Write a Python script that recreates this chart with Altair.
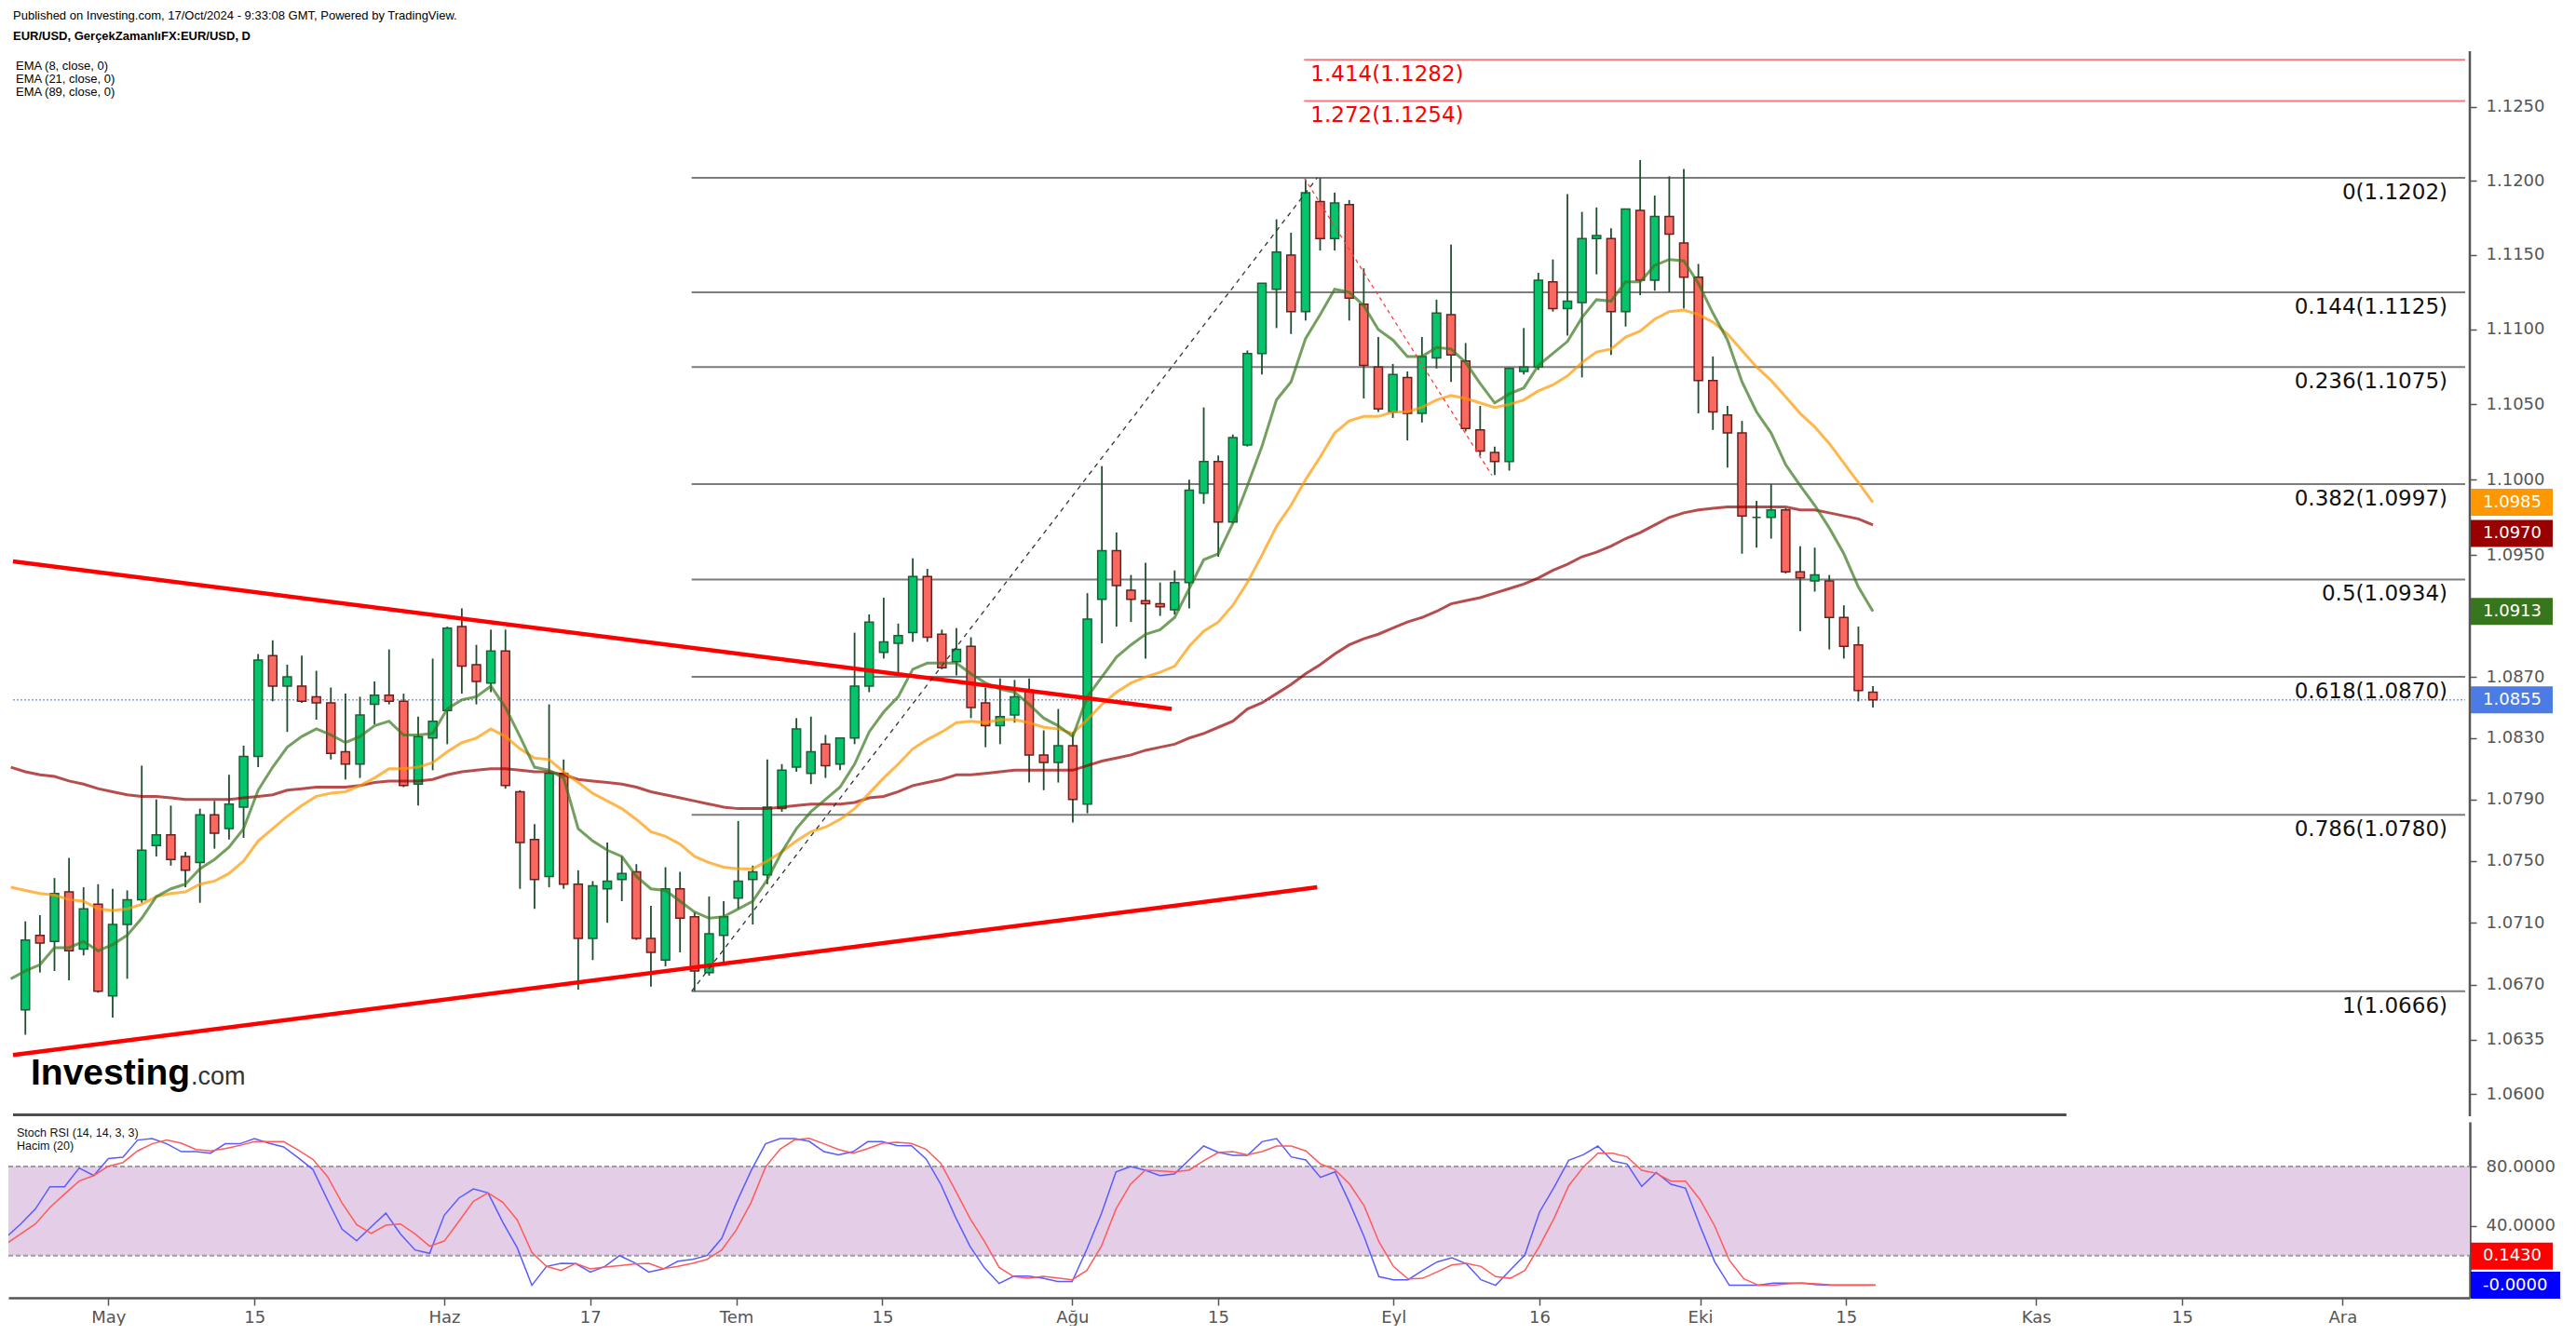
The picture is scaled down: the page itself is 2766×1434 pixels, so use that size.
import altair as alt
import pandas as pd

# ---------------- data ----------------
# daily candles, first visible candle = Tue 23 Apr 2024, last = Thu 17 Oct 2024
open_ = [1.0654,1.0702,1.0698,1.0730,1.0693,1.0722,1.0663,1.0709,1.0725,1.0760,
1.0767,1.0753,1.0749,1.0780,1.0771,1.0785,1.0818,1.0884,1.0864,1.0864,
1.0857,1.0853,1.0821,1.0813,1.0852,1.0858,1.0854,1.0800,1.0830,1.0848,
1.0903,1.0878,1.0866,1.0887,1.0795,1.0764,1.0740,1.0807,1.0735,1.0700,
1.0732,1.0738,1.0743,1.0700,1.0686,1.0732,1.0714,1.0678,1.0702,1.0726,
1.0738,1.0741,1.0784,1.0811,1.0807,1.0826,1.0813,1.0830,1.0864,1.0886,
1.0892,1.0899,1.0936,1.0898,1.0880,1.0890,1.0853,1.0838,1.0845,1.0861,
1.0819,1.0814,1.0825,1.0787,1.0921,1.0953,1.0927,1.0920,1.0918,1.0914,
1.0932,1.0991,1.1012,1.0972,1.1023,1.1084,1.1127,1.1150,1.1112,1.1186,
1.1161,1.1184,1.1117,1.1075,1.1045,1.1068,1.1044,1.1081,1.1110,1.1079,
1.1033,1.1018,1.1012,1.1072,1.1075,1.1132,1.1114,1.1118,1.1161,1.1161,
1.1112,1.1180,1.1133,1.1176,1.1158,1.1135,1.1066,1.1043,1.1031,1.0975,
1.0975,1.0980,1.0939,1.0933,1.0933,1.0909,1.0891,1.0860]
high_ = [1.0711,1.0715,1.0739,1.0752,1.0733,1.0735,1.0732,1.0731,1.0812,1.0790,
1.0786,1.0756,1.0784,1.0789,1.0806,1.0825,1.0885,1.0894,1.0878,1.0884,
1.0874,1.0863,1.0859,1.0857,1.0867,1.0888,1.0859,1.0844,1.0882,1.0903,
1.0915,1.0891,1.0901,1.0901,1.0796,1.0774,1.0852,1.0816,1.0744,1.0737,
1.0762,1.0753,1.0748,1.0721,1.0746,1.0743,1.0717,1.0727,1.0724,1.0776,
1.0747,1.0816,1.0813,1.0843,1.0844,1.0832,1.0830,1.0899,1.0911,1.0922,
1.0905,1.0948,1.0941,1.0901,1.0902,1.0896,1.0863,1.0869,1.0868,1.0869,
1.0835,1.0849,1.0834,1.0925,1.1009,1.0965,1.0937,1.0945,1.0932,1.0940,
1.1000,1.1048,1.1016,1.1030,1.1086,1.1131,1.1174,1.1165,1.1201,1.1202,
1.1192,1.1187,1.1141,1.1095,1.1077,1.1072,1.1095,1.1120,1.1157,1.1091,
1.1049,1.1022,1.1074,1.1101,1.1138,1.1147,1.1191,1.1179,1.1182,1.1168,
1.1181,1.1214,1.1190,1.1203,1.1208,1.1144,1.1082,1.1049,1.1039,1.0986,
1.0997,1.0981,1.0956,1.0955,1.0937,1.0917,1.0903,1.0864]
low_ = [1.0638,1.0678,1.0679,1.0673,1.0689,1.0665,1.0649,1.0674,1.0723,1.0753,
1.0747,1.0733,1.0723,1.0758,1.0764,1.0765,1.0811,1.0854,1.0834,1.0853,
1.0842,1.0816,1.0803,1.0804,1.0839,1.0852,1.0798,1.0786,1.0809,1.0826,
1.0859,1.0852,1.0860,1.0797,1.0732,1.0719,1.0733,1.0732,1.0667,1.0686,
1.0710,1.0724,1.0699,1.0669,1.0682,1.0691,1.0666,1.0676,1.0685,1.0719,
1.0709,1.0735,1.0782,1.0808,1.0800,1.0804,1.0809,1.0826,1.0860,1.0882,
1.0873,1.0893,1.0893,1.0875,1.0871,1.0843,1.0824,1.0826,1.0840,1.0801,
1.0796,1.0801,1.0775,1.0781,1.0892,1.0903,1.0906,1.0882,1.0910,1.0911,
1.0915,1.0984,1.0949,1.0971,1.1022,1.1070,1.1101,1.1097,1.1106,1.1153,
1.1153,1.1106,1.1054,1.1045,1.1041,1.1026,1.1038,1.1074,1.1065,1.1032,
1.1016,1.1003,1.1006,1.1070,1.1073,1.1112,1.1096,1.1068,1.1137,1.1083,
1.1102,1.1123,1.1126,1.1125,1.1114,1.1044,1.1033,1.1008,1.0951,1.0955,
1.0961,1.0938,1.0900,1.0926,1.0888,1.0882,1.0854,1.0850]
close_ = [1.0699,1.0697,1.0729,1.0692,1.0719,1.0666,1.0709,1.0725,1.0757,1.0767,
1.0751,1.0744,1.0780,1.0768,1.0787,1.0818,1.0881,1.0864,1.0870,1.0854,
1.0853,1.0820,1.0813,1.0845,1.0858,1.0854,1.0799,1.0831,1.0841,1.0902,
1.0877,1.0867,1.0887,1.0799,1.0762,1.0738,1.0807,1.0735,1.0700,1.0734,
1.0737,1.0742,1.0700,1.0691,1.0732,1.0713,1.0679,1.0703,1.0714,1.0737,
1.0743,1.0785,1.0809,1.0836,1.0821,1.0812,1.0830,1.0864,1.0906,1.0893,
1.0897,1.0936,1.0896,1.0876,1.0888,1.0850,1.0838,1.0844,1.0857,1.0819,
1.0814,1.0825,1.0790,1.0908,1.0953,1.0930,1.0921,1.0918,1.0916,1.0932,
1.0993,1.1012,1.0972,1.1028,1.1084,1.1131,1.1152,1.1112,1.1192,1.1161,
1.1185,1.1121,1.1076,1.1047,1.1070,1.1044,1.1082,1.1111,1.1083,1.1034,
1.1019,1.1012,1.1074,1.1075,1.1133,1.1114,1.1119,1.1161,1.1163,1.1112,
1.1181,1.1133,1.1176,1.1164,1.1135,1.1066,1.1045,1.1031,1.0976,1.0975,
1.0980,1.0939,1.0935,1.0937,1.0909,1.0890,1.0861,1.0855]

# indicator lines, first value = Mon 22 Apr 2024 (partly off the left edge)
ema8 = [1.0674,
1.0679,1.0683,1.0694,1.0694,1.0698,1.0692,1.0696,1.0702,1.0713,1.0727,
1.0732,1.0735,1.0745,1.0751,1.0759,1.0771,1.0796,1.0811,1.0824,1.0831,
1.0836,1.0832,1.0827,1.0831,1.0838,1.0841,1.0832,1.0832,1.0833,1.0849,
1.0855,1.0857,1.0864,1.0850,1.0831,1.0811,1.0809,1.0804,1.0771,1.0763,
1.0757,1.0753,1.0740,1.0732,1.0731,1.0724,1.0717,1.0713,1.0714,1.0719,
1.0724,1.0738,1.0756,1.0771,1.0782,1.0790,1.0798,1.0813,1.0834,1.0847,
1.0857,1.0875,1.0879,1.0879,1.0879,1.0872,1.0866,1.0862,1.0860,1.0852,
1.0843,1.0838,1.0831,1.0857,1.0870,1.0883,1.0891,1.0898,1.0901,1.0909,
1.0928,1.0947,1.0951,1.0971,1.0996,1.1022,1.1053,1.1065,1.1094,1.1110,
1.1127,1.1125,1.1116,1.1100,1.1093,1.1082,1.1082,1.1088,1.1087,1.1078,
1.1064,1.1051,1.1057,1.1061,1.1076,1.1084,1.1092,1.1108,1.1120,1.1119,
1.1132,1.1132,1.1143,1.1147,1.1146,1.1131,1.1111,1.1093,1.1065,1.1045,
1.1031,1.1010,1.0996,1.0983,1.0968,1.0951,1.0929,1.0913]
ema21 = [1.0733,
1.0731,1.0729,1.0728,1.0725,1.0724,1.0719,1.0718,1.0719,1.0722,1.0727,
1.0729,1.0730,1.0735,1.0737,1.0742,1.0750,1.0763,1.0771,1.0779,1.0786,
1.0792,1.0794,1.0795,1.0799,1.0804,1.0810,1.0810,1.0811,1.0814,1.0821,
1.0827,1.0830,1.0836,1.0831,1.0823,1.0817,1.0816,1.0808,1.0801,1.0794,
1.0789,1.0784,1.0777,1.0769,1.0766,1.0761,1.0753,1.0749,1.0746,1.0745,
1.0745,1.0750,1.0756,1.0763,1.0769,1.0772,1.0777,1.0784,1.0794,1.0804,
1.0813,1.0823,1.0829,1.0834,1.0840,1.0841,1.0840,1.0842,1.0842,1.0840,
1.0837,1.0836,1.0833,1.0842,1.0852,1.0860,1.0866,1.0870,1.0873,1.0877,
1.0890,1.0900,1.0906,1.0917,1.0932,1.0950,1.0969,1.0983,1.1000,1.1015,
1.1031,1.1039,1.1042,1.1042,1.1045,1.1045,1.1048,1.1053,1.1056,1.1054,
1.1051,1.1048,1.1050,1.1053,1.1059,1.1063,1.1069,1.1078,1.1085,1.1087,
1.1095,1.1099,1.1107,1.1112,1.1113,1.1110,1.1105,1.1097,1.1086,1.1075,
1.1066,1.1055,1.1044,1.1035,1.1024,1.1011,1.0998,1.0985]
ema89 = [1.0811,
1.0808,1.0806,1.0805,1.0802,1.0800,1.0797,1.0795,1.0793,1.0792,1.0792,
1.0791,1.0790,1.0790,1.0790,1.0790,1.0791,1.0792,1.0793,1.0796,1.0797,
1.0798,1.0798,1.0798,1.0799,1.0801,1.0802,1.0802,1.0802,1.0803,1.0806,
1.0808,1.0809,1.0810,1.0810,1.0809,1.0808,1.0808,1.0806,1.0803,1.0802,
1.0801,1.0800,1.0798,1.0795,1.0793,1.0791,1.0789,1.0787,1.0785,1.0784,
1.0784,1.0784,1.0785,1.0786,1.0787,1.0787,1.0787,1.0788,1.0791,1.0792,
1.0795,1.0799,1.0801,1.0803,1.0806,1.0806,1.0807,1.0808,1.0809,1.0809,
1.0809,1.0809,1.0809,1.0812,1.0815,1.0817,1.0819,1.0822,1.0824,1.0826,
1.0830,1.0833,1.0837,1.0841,1.0849,1.0853,1.0859,1.0865,1.0872,1.0878,
1.0885,1.0891,1.0895,1.0898,1.0902,1.0906,1.0909,1.0913,1.0918,1.0920,
1.0922,1.0925,1.0928,1.0931,1.0935,1.0940,1.0944,1.0949,1.0952,1.0956,
1.0961,1.0965,1.0970,1.0975,1.0978,1.0980,1.0981,1.0982,1.0982,1.0982,
1.0982,1.0982,1.0980,1.0980,1.0978,1.0976,1.0974,1.0970]
stoch_k = [32.5,
41.3,51.4,66.4,66.4,79.0,73.9,85.4,86.3,97.8,98.8,
95.3,90.0,90.0,89.0,95.3,95.3,98.8,95.7,93.2,85.9,
78.1,57.6,37.8,30.0,39.4,48.6,34.6,23.8,21.5,47.2,
58.7,64.9,62.2,42.6,25.2,0.0,12.7,14.8,14.6,8.9,
12.7,20.0,15.4,8.9,11.0,16.2,17.5,20.0,31.5,55.5,
76.9,95.3,98.8,98.8,96.9,90.0,87.9,90.0,96.7,96.7,
94.1,94.0,85.1,68.1,46.1,26.3,11.6,1.2,6.2,6.2,
4.7,2.6,2.6,24.2,48.2,76.4,80.0,77.5,73.9,75.0,
84.4,93.8,89.6,87.5,87.5,96.7,98.8,86.5,84.4,72.7,
76.4,55.5,32.5,5.8,3.7,3.7,10.0,15.8,18.5,14.4,
3.7,0.0,10.2,20.4,49.3,66.0,84.2,87.9,93.8,83.8,
81.7,66.6,76.0,68.1,65.4,39.9,15.8,0.0,0.0,0.0,
1.5,1.5,1.5,0.4,0.0,0.0,0.0,-0.0]
stoch_d = [27.9,
34.6,41.3,52.4,61.4,70.2,73.9,80.2,82.7,90.5,95.3,
97.8,95.7,91.5,90.5,92.1,94.2,96.7,96.7,96.7,91.1,
84.8,73.3,55.5,40.9,35.0,40.5,41.3,34.6,26.3,29.8,
43.0,56.6,62.2,56.0,44.0,22.1,12.7,10.0,14.8,11.0,
12.3,13.3,14.4,14.8,11.2,12.7,14.8,17.5,23.8,37.3,
55.5,79.6,91.7,98.0,99.0,95.3,91.5,89.0,92.1,95.7,
96.3,95.5,91.5,82.3,63.9,45.1,29.4,12.0,5.8,4.7,
6.0,4.9,3.7,10.0,26.3,51.4,68.1,77.5,77.1,76.4,
77.5,83.8,89.4,90.0,87.9,90.0,93.8,93.8,90.5,81.7,
77.9,68.1,53.4,29.4,12.7,4.3,4.7,9.1,13.7,14.8,
12.7,5.8,4.7,10.0,26.3,45.1,67.0,79.6,89.0,89.0,
86.5,77.5,75.4,70.2,70.2,57.6,39.9,16.9,4.3,0.0,
0.0,1.0,1.5,1.0,0.2,0.143,0.143,0.143]

assert len(open_) == len(high_) == len(low_) == len(close_) == 128
assert len(ema8) == len(ema21) == len(ema89) == len(stoch_k) == len(stoch_d) == 129

# calendar: weekday sessions, index 0 = 23 Apr 2024
bdays = pd.bdate_range("2024-04-22", "2024-12-31")
def day_index(d):
    return int(bdays.get_loc(pd.Timestamp(d))) - 1

tick_dates = ["2024-05-01", "2024-05-15", "2024-06-03", "2024-06-17", "2024-07-01",
              "2024-07-15", "2024-08-01", "2024-08-15", "2024-09-02", "2024-09-16",
              "2024-10-01", "2024-10-15", "2024-11-01", "2024-11-15", "2024-12-02"]
tick_labels = ["May", "15", "Haz", "17", "Tem", "15", "Ağu", "15", "Eyl", "16",
               "Eki", "15", "Kas", "15", "Ara"]
tick_idx = [day_index(d) for d in tick_dates]

price_ticks = [1.0600, 1.0635, 1.0670, 1.0710, 1.0750, 1.0790, 1.0830, 1.0870,
               1.0950, 1.1000, 1.1050, 1.1100, 1.1150, 1.1200, 1.1250]
rsi_ticks = [40, 80]

fib_ratios = ["0", "0.144", "0.236", "0.382", "0.5", "0.618", "0.786", "1"]
fib_prices = [1.1202, 1.1125, 1.1075, 1.0997, 1.0934, 1.0870, 1.0780, 1.0666]
ext_ratios = ["1.414", "1.272"]
ext_prices = [1.1282, 1.1254]
fib_start = 45.8        # swing low session (26 Jun)
ext_start = 87.9

trend_upper = [(-0.85, 1.0946), (78.8, 1.0849)]
trend_lower = [(-0.85, 1.0625), (88.8, 1.0733)]
swing_up = [(45.8, 1.0666), (88.8, 1.1202)]
swing_down = [(87.9, 1.1202), (100.8, 1.1003)]
separator_end = 140.3

header1 = "Published on Investing.com, 17/Oct/2024 - 9:33:08 GMT, Powered by TradingView."
header2 = "EUR/USD, GerçekZamanlıFX:EUR/USD, D"
ema_titles = ["EMA (8, close, 0)", "EMA (21, close, 0)", "EMA (89, close, 0)"]
rsi_titles = ["Stoch RSI (14, 14, 3, 3)", "Hacim (20)"]

# ---------------- layout / style ----------------
W, H1, H2 = 2643, 1199, 189
XMIN, XMAX = -0.848, 167.71
xsc = alt.Scale(domain=[XMIN, XMAX], nice=False, zero=False)
ysc = alt.Scale(type="log", domain=[1.05859, 1.13227], nice=False, zero=False)
rsc = alt.Scale(domain=[-8.4, 110.1], nice=False, zero=False)
AX = "DejaVu Sans"
TX = "Liberation Sans"
GREY = "#555555"

price_axis = alt.Axis(orient="right", values=price_ticks, format=".4f", title=None,
                      grid=False, domain=False, tickColor=GREY, tickSize=7, tickWidth=1.5,
                      labelFont=AX, labelFontSize=18, labelColor=GREY, labelPadding=10,
                      labelOverlap=False)
label_expr = " : ".join(f"datum.value == {i} ? '{t}'" for i, t in zip(tick_idx, tick_labels)) + " : ''"
x_axis = alt.Axis(values=tick_idx, labelExpr=label_expr, title=None, grid=False,
                  domain=True, domainColor=GREY, domainWidth=2.5, tickColor=GREY,
                  tickSize=8, tickWidth=1.5, labelFont=AX, labelFontSize=18,
                  labelColor=GREY, labelPadding=4, labelFlush=False, labelOverlap=False)
r_axis = alt.Axis(orient="right", values=rsi_ticks, format=".4f", title=None, grid=False,
                  domain=True, domainColor=GREY, domainWidth=2.5, tickColor=GREY,
                  tickSize=7, tickWidth=1.5, labelFont=AX, labelFontSize=18,
                  labelColor=GREY, labelPadding=10)

cdf = pd.DataFrame({"i": list(range(128)), "o": open_, "h": high_, "l": low_, "c": close_})
ldf = pd.DataFrame({"i": list(range(-1, 128)), "ema8": ema8, "ema21": ema21,
                    "ema89": ema89, "k": stoch_k, "d": stoch_d})
one = pd.DataFrame({"a": [0]})

def X(f="i"):
    return alt.X(f"{f}:Q", scale=xsc, axis=None)

def Y(f):
    return alt.Y(f"{f}:Q", scale=ysc, axis=price_axis)

def RX(f="i"):
    return alt.X(f"{f}:Q", scale=xsc, axis=x_axis)

def RY(f):
    return alt.Y(f"{f}:Q", scale=rsc, axis=r_axis)

fdf = pd.DataFrame({"p": fib_prices, "r": fib_ratios})
fdf["x0"] = fib_start
fdf["x1"] = XMAX
fdf["lab"] = [f"{r}({p:.4f})" for r, p in zip(fib_ratios, fib_prices)]
edf = pd.DataFrame({"p": ext_prices, "r": ext_ratios})
edf["x0"] = ext_start
edf["x1"] = XMAX
edf["lab"] = [f"{r}({p:.4f})" for r, p in zip(ext_ratios, ext_prices)]

fib_rules = alt.Chart(fdf).mark_rule(color="#7c7c7c", strokeWidth=2, clip=True).encode(
    x=X("x0"), x2="x1:Q", y=Y("p"))
ext_rules = alt.Chart(edf).mark_rule(color="#f77c80", strokeWidth=2, clip=True).encode(
    x=X("x0"), x2="x1:Q", y=Y("p"))
fib_text = alt.Chart(fdf).mark_text(align="right", baseline="top", dx=-19, dy=5,
                                    font=AX, fontSize=23, color="#111").encode(
    x=X("x1"), y=Y("p"), text="lab:N")
ext_text = alt.Chart(edf).mark_text(align="left", baseline="top", dx=7, dy=5,
                                    font=AX, fontSize=23, color="#ff0000").encode(
    x=X("x0"), y=Y("p"), text="lab:N")

last_df = pd.DataFrame({"p": [close_[-1]], "x0": [XMIN], "x1": [XMAX]})
last_line = alt.Chart(last_df).mark_rule(color="#7f9cf5", strokeWidth=1.5,
                                         strokeDash=[2, 2], clip=True).encode(
    x=X("x0"), x2="x1:Q", y=Y("p"))

tl_rows = []
for g, pts in (("up", trend_upper), ("lo", trend_lower)):
    for i, p in pts:
        tl_rows.append({"g": g, "i": i, "p": p})
trend = alt.Chart(pd.DataFrame(tl_rows)).mark_line(color="#ff0000", strokeWidth=4.5,
                                                   clip=True).encode(
    x=X(), y=Y("p"), detail="g:N")
sw_up = alt.Chart(pd.DataFrame(swing_up, columns=["i", "p"])).mark_line(
    color="#333333", strokeWidth=1.3, strokeDash=[5, 5]).encode(x=X(), y=Y("p"))
sw_dn = alt.Chart(pd.DataFrame(swing_down, columns=["i", "p"])).mark_line(
    color="#ff3b3b", strokeWidth=1.3, strokeDash=[4, 4]).encode(x=X(), y=Y("p"))

wicks = alt.Chart(cdf).mark_rule(color="#1f4e2f", strokeWidth=1.8).encode(
    x=X(), y=Y("l"), y2="h:Q")
bodies = alt.Chart(cdf).mark_bar(width=9, strokeWidth=1.5).encode(
    x=X(), y=Y("o"), y2="c:Q",
    fill=alt.condition("datum.c >= datum.o", alt.value("#05c46b"), alt.value("#fa695f")),
    stroke=alt.condition("datum.c >= datum.o", alt.value("#1d5c36"), alt.value("#6b1f1f")))

ema_lines = [
    alt.Chart(ldf).mark_line(color=col, opacity=0.7, strokeWidth=3, clip=True).encode(
        x=X(), y=Y(f))
    for f, col in (("ema89", "#990000"), ("ema21", "#ff9800"), ("ema8", "#38761d"))
]

headers = [
    alt.Chart(one).mark_text(text=header1, align="left", baseline="alphabetic", font=TX,
                             fontSize=13, color="#000").encode(x=alt.value(5), y=alt.value(21)),
    alt.Chart(one).mark_text(text=header2, align="left", baseline="alphabetic", font=TX,
                             fontSize=13, fontWeight="bold", color="#000").encode(
        x=alt.value(5), y=alt.value(43)),
]
for n, t in enumerate(ema_titles):
    headers.append(alt.Chart(one).mark_text(text=t, align="left", baseline="alphabetic",
                                            font=TX, fontSize=13, color="#000").encode(
        x=alt.value(8), y=alt.value(75 + 14 * n)))
logo = [
    alt.Chart(one).mark_text(text="Investing", align="left", baseline="alphabetic", font=TX,
                             fontSize=39, fontWeight="bold", color="#000").encode(
        x=alt.value(24), y=alt.value(1165)),
    alt.Chart(one).mark_text(text=".com", align="left", baseline="alphabetic", font=TX,
                             fontSize=27, color="#333").encode(x=alt.value(196), y=alt.value(1165)),
]

def tag(value, label, color, yenc, y_off=0, width=89):
    d = pd.DataFrame({"v": [value], "lab": [label]})
    box = alt.Chart(d).mark_rule(color=color, strokeWidth=29, strokeCap="butt",
                                 yOffset=y_off).encode(
        x=alt.value(W + 1), x2=alt.value(W + width), y=yenc("v"))
    txt = alt.Chart(d).mark_text(align="left", baseline="middle", font=AX, fontSize=18,
                                 color="white", yOffset=y_off).encode(
        x=alt.value(W + 14), y=yenc("v"), text="lab:N")
    return [box, txt]

price_tags = []
price_tags += tag(ema21[-1], f"{ema21[-1]:.4f}", "#ff9800", Y)
price_tags += tag(ema89[-1], f"{ema89[-1]:.4f}", "#990000", Y, y_off=9)
price_tags += tag(ema8[-1], f"{ema8[-1]:.4f}", "#38761d", Y)
price_tags += tag(close_[-1], f"{close_[-1]:.4f}", "#4b7be5", Y)

axis_rule = alt.Chart(one).mark_rule(color=GREY, strokeWidth=2.5).encode(
    x=alt.value(W), y=alt.value(55), y2=alt.value(H1))
sep_df = pd.DataFrame({"x0": [XMIN], "x1": [separator_end]})
separator = alt.Chart(sep_df).mark_rule(color="#4d4d4d", strokeWidth=3, clip=True).encode(
    x=X("x0"), x2="x1:Q", y=alt.value(H1 - 1.5))

price = alt.layer(
    fib_rules, ext_rules, last_line, wicks, bodies, *ema_lines, trend, sw_up, sw_dn,
    fib_text, ext_text, *headers, *logo, axis_rule, separator, *price_tags
).properties(width=W, height=H1)

# ---------------- Stoch RSI panel ----------------
band_df = pd.DataFrame({"x0": [XMIN], "x1": [XMAX], "lo": [20], "hi": [80]})
band = alt.Chart(band_df).mark_rect(color="#e3cde7", clip=True).encode(
    x=RX("x0"), x2="x1:Q", y=RY("lo"), y2="hi:Q")
lvl_df = pd.DataFrame({"v": [20, 80], "x0": [XMIN, XMIN], "x1": [XMAX, XMAX]})
levels = alt.Chart(lvl_df).mark_rule(color="#9c9c9c", strokeWidth=2, strokeDash=[5, 3],
                                     clip=True).encode(
    x=RX("x0"), x2="x1:Q", y=RY("v"))
k_line = alt.Chart(ldf).mark_line(color="#5a5aff", strokeWidth=1.5, clip=True).encode(
    x=RX(), y=RY("k"))
d_line = alt.Chart(ldf).mark_line(color="#ff5a5a", strokeWidth=1.5, clip=True).encode(
    x=RX(), y=RY("d"))
rsi_text = [
    alt.Chart(one).mark_text(text=t, align="left", font=TX, fontSize=12.5, color="#111").encode(
        x=alt.value(9), y=alt.value(12 + 14 * n))
    for n, t in enumerate(rsi_titles)
]
rsi_tags = []
rsi_tags += tag(stoch_d[-1], f"{stoch_d[-1]:.4f}", "#ff0000", RY, y_off=-31)
rsi_tags += tag(stoch_k[-1], f"{stoch_k[-1]:.4f}", "#0000ff", RY, width=97)

rsi = alt.layer(band, levels, k_line, d_line, *rsi_text, *rsi_tags).properties(width=W, height=H2)

chart = alt.vconcat(price, rsi, spacing=4).properties(
    padding={"left": 9, "top": 0, "right": 0, "bottom": 0},
    background="white",
).configure_view(stroke=None)

chart.save("out.html", embed_options={"renderer": "svg", "actions": False})
